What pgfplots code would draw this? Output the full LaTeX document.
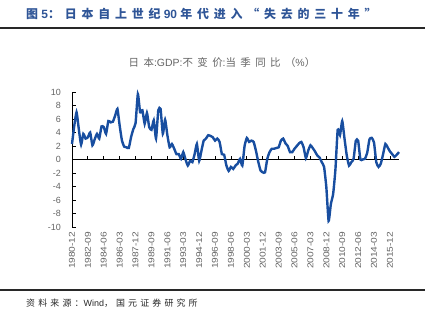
\documentclass[border=0pt]{standalone}
\usepackage{pgfplots}
\pgfplotsset{compat=1.18}
\usepackage{fontspec}
\setmainfont{Liberation Sans}
\newfontfamily\cjk{Noto Sans CJK SC}
\newfontfamily\cjkt[LetterSpace=40]{Noto Sans CJK SC}
\newfontfamily\cjku[LetterSpace=42]{Noto Sans CJK SC}
\newfontfamily\cjks[LetterSpace=35]{Noto Sans CJK SC}
\definecolor{lineblue}{RGB}{24,78,160}
\definecolor{titleblue}{RGB}{47,85,151}
\definecolor{tickgray}{RGB}{100,100,100}
\definecolor{rulegray}{RGB}{40,40,40}
\newcommand{\XL}[1]{\scalebox{1.2}[1]{#1}}
\begin{document}
\begin{tikzpicture}
\path[use as bounding box] (0,0) rectangle (432bp,-324bp);
\node[anchor=west,inner sep=0pt,text=titleblue] at (26bp,-14bp) {\fontsize{12}{14}\selectfont\bfseries{\cjkt 图}\ 5{\cjkt ：日本自上世纪}\ 90\ {\cjkt 年代进入“失去的三十年”}};
\draw[rulegray,line width=2bp] (0,-28bp) -- (425bp,-28bp);
\node[anchor=center,inner sep=0pt,text=tickgray] at (222bp,-63bp) {\fontsize{10.5}{12}\selectfont{\cjku 日本}:GDP:{\cjku 不变价}:{\cjku 当季同比（}\%{\cjku ）}};
\begin{axis}[
  at={(72bp,-92bp)}, anchor=north west,
  width=327bp, height=135bp, scale only axis,
  xmin=0, xmax=144, ymin=-10, ymax=10,
  axis x line*=middle, axis y line*=left,
  hide obscured x ticks=false, hide obscured y ticks=false,
  axis line style={black, line width=0.8bp},
  major tick style={black, line width=0.8bp},
  major tick length=3.5bp,
  tick align=inside,
  xtick={0,7,...,140},
  xticklabels={\XL{1980-12},\XL{1982-09},\XL{1984-06},\XL{1986-03},\XL{1987-12},\XL{1989-09},\XL{1991-06},\XL{1993-03},\XL{1994-12},\XL{1996-09},\XL{1998-06},\XL{2000-03},\XL{2001-12},\XL{2003-09},\XL{2005-06},\XL{2007-03},\XL{2008-12},\XL{2010-09},\XL{2012-06},\XL{2014-03},\XL{2015-12}},
  xticklabel shift=72bp,
  x tick label style={rotate=90, anchor=east, font=\fontsize{8.5}{10}\selectfont, text=tickgray, inner sep=0pt},
  ytick={-10,-8,...,10},
  yticklabels={-10,-8,-6,-4,-2,0,2,4,6,8,10},
  yticklabel shift=11bp,
  y tick label style={font=\fontsize{9}{10}\selectfont, text=tickgray, inner sep=0pt},
  clip=false,
]
\addplot[lineblue, line width=2.4bp, smooth, tension=0.3] coordinates {
(0,2.3)(1,5.0)(2,7.0)(3,4.5)(4,2.2)(5,3.8)(6,3.1)(7,3.3)(8,4.0)(9,2.1)
(10,3.0)(11,3.8)(12,3.1)(13,4.9)(14,4.8)(15,3.8)(16,5.7)(17,5.5)(18,5.6)(19,6.5)
(20,7.5)(21,5.0)(22,2.8)(23,1.9)(24,1.8)(25,1.7)(26,3.3)(27,4.5)(28,5.4)(29,9.7)
(30,7.0)(31,7.3)(32,5.3)(33,6.9)(34,4.8)(35,4.4)(36,5.8)(37,3.1)(38,7.3)(39,7.5)
(40,3.8)(41,5.9)(42,3.6)(43,1.8)(44,2.3)(45,1.6)(46,0.8)(47,0.8)(48,0.1)(49,1.1)
(50,0.0)(51,-0.9)(52,-0.2)(53,-0.4)(54,0.8)(55,2.3)(56,-0.2)(57,1.3)(58,2.8)(59,3.1)
(60,3.6)(61,3.5)(62,3.3)(63,2.8)(64,3.1)(65,2.6)(66,0.8)(67,0.7)(68,-0.9)(69,-1.7)
(70,-1.1)(71,-1.4)(72,-0.9)(73,-0.6)(74,0.1)(75,-0.9)(76,2.0)(77,3.2)(78,2.6)(79,2.8)
(80,2.6)(81,1.3)(82,-0.3)(83,-1.6)(84,-1.9)(85,-1.9)(86,0.1)(87,1.1)(88,1.6)(89,1.6)
(90,1.7)(91,1.8)(92,2.8)(93,3.1)(94,2.4)(95,2.0)(96,1.1)(97,1.1)(98,1.6)(99,2.0)
(100,2.4)(101,2.6)(102,1.8)(103,0.2)(104,1.3)(105,2.1)(106,1.7)(107,1.2)(108,0.6)(109,0.3)
(110,-0.4)(111,-1.1)(112,-4.1)(113,-9.1)(114,-6.6)(115,-5.1)(116,-1.5)(117,4.4)(118,3.6)(119,5.7)
(120,3.1)(121,0.6)(122,-0.9)(123,-0.4)(124,0.1)(125,2.8)(126,2.8)(127,0.0)(128,0.0)(129,0.1)
(130,1.0)(131,3.0)(132,3.2)(133,2.5)(134,-0.4)(135,-1.1)(136,-0.6)(137,0.8)(138,2.3)(139,1.8)
(140,1.2)(141,0.8)(142,0.4)(143,0.7)(144,1.1)
};
\end{axis}
\draw[rulegray,line width=1.5bp] (0,-290bp) -- (425bp,-290bp);
\node[anchor=west,inner sep=0pt,text=rulegray] at (26bp,-303bp) {\fontsize{9}{11}\selectfont{\cjks 资料来源：}Wind{\cjks ，国元证券研究所}};
\end{tikzpicture}
\end{document}
